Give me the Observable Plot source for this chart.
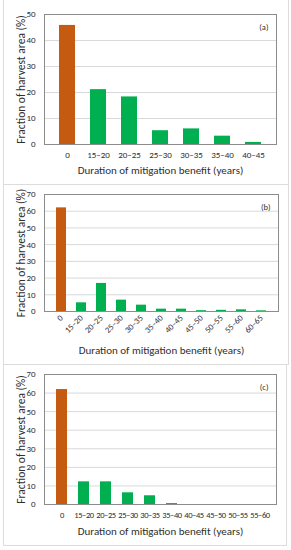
<!DOCTYPE html>
<html><head><meta charset="utf-8">
<script src="https://cdn.jsdelivr.net/npm/d3@7"></script>
<script src="https://cdn.jsdelivr.net/npm/@observablehq/plot@0.6"></script>
<style>
html,body{margin:0;padding:0;background:#fff;}
body{width:291px;height:550px;position:relative;overflow:hidden;font-family:Carlito,Lato,sans-serif;}
.panel{position:absolute;border:1px solid #dcdcdc;box-sizing:border-box;background:#fff;}
.panel svg{position:absolute;left:0;top:0;}
</style></head>
<body>
<div id="pa" class="panel" style="left:3px;top:-1px;width:286px;height:186px"></div>
<div id="pb" class="panel" style="left:3px;top:184px;width:286px;height:181px"></div>
<div id="pc" class="panel" style="left:3px;top:364px;width:284px;height:182px"></div>
<script>
const catsA = ["0","15–20","20–25","25–30","30–35","35–40","40–45"];
const valsA = [45.8, 21.1, 18.3, 5.3, 6.0, 3.2, 0.8];
const catsB = ["0","15–20","20–25","25–30","30–35","35–40","40–45","45–50","50–55","55–60","60–65"];
const valsB = [62.0, 5.2, 16.8, 6.8, 3.8, 1.4, 1.4, 0.5, 0.7, 1.0, 0.4];
const catsC = ["0","15–20","20–25","25–30","30–35","35–40","40–45","45–50","50–55","55–60"];
const valsC = [61.9, 12.2, 12.2, 6.3, 4.7, 0.5, 0, 0, 0, 0];
const ticksA = [0,10,20,30,40,50];
const ticksBC = [0,10,20,30,40,50,60,70];
const panelLabels = ["(a)","(b)","(c)"];
const yTitle = "Fraction of harvest area (%)";
const xTitle = "Duration of mitigation benefit (years)";

const ORANGE = "#C55A11", GREEN = "#00B050", TXT = "#2e2e2e";
const FONT = "Carlito, Lato, sans-serif";

function makeChart(cats, vals, yTicks, yMax, label, o) {
  const data = cats.map((c, i) => ({cat: c, v: vals[i]}));
  return Plot.plot({
    width: 282, height: o.h,
    marginLeft: o.ml, marginRight: o.mr, marginTop: o.mt, marginBottom: o.mb,
    style: {fontFamily: FONT, fontSize: "8px", color: TXT, background: "transparent"},
    x: {domain: cats, padding: o.pad},
    y: {domain: [0, yMax]},
    marks: [
      Plot.gridY(yTicks, {stroke: "#d9d9d9", strokeOpacity: 1}),
      Plot.barY(data, {x: "cat", y: "v", fill: d => d.cat === "0" ? ORANGE : GREEN}),
      Plot.frame({stroke: "#8c8c8c"}),
      Plot.axisY({ticks: yTicks, tickSize: 0, tickPadding: 9, label: null, fontSize: 9, fill: TXT}),
      Plot.axisX({tickSize: 0, tickPadding: o.xtp, tickRotate: o.rot, label: null, fontSize: o.xfs, fill: TXT}),
      Plot.text([yTitle], {frameAnchor: "left", dx: o.ydx, rotate: -90, fontSize: 11.5, fill: TXT, textAnchor: "middle", lineAnchor: "middle"}),
      Plot.text([xTitle], {frameAnchor: "bottom", dy: o.xdy, fontSize: 11, fill: TXT, textAnchor: "middle", lineAnchor: "middle"}),
      Plot.text([label], {frameAnchor: "top-right", dx: -8, dy: 9, fontSize: 8.5, fill: TXT})
    ]
  });
}

const a = makeChart(catsA, valsA, ticksA, 50, panelLabels[0], {h: 183, ml: 40, mr: 10, mt: 14, mb: 39, pad: 0.48, ydx: -23, xdy: 26, xtp: 7, rot: 0, xfs: 9});
const b = makeChart(catsB, valsB, ticksBC, 70, panelLabels[1], {h: 178, ml: 40, mr: 8, mt: 9, mb: 52, pad: 0.48, ydx: -23, xdy: 39, xtp: 5, rot: -45, xfs: 8.5});
const c = makeChart(catsC, valsC, ticksBC, 70, panelLabels[2], {h: 179, ml: 40, mr: 10, mt: 9, mb: 40, pad: 0.5, ydx: -23, xdy: 27, xtp: 7, rot: 0, xfs: 8.5});
document.getElementById("pa").appendChild(a);
document.getElementById("pb").appendChild(b);
document.getElementById("pc").appendChild(c);
// tighten tick labels of panel (c) so they sit side by side
c.querySelectorAll("g[aria-label='x-axis tick label'] text").forEach(t => t.setAttribute("letter-spacing", "-0.4"));
</script>
</body></html>
